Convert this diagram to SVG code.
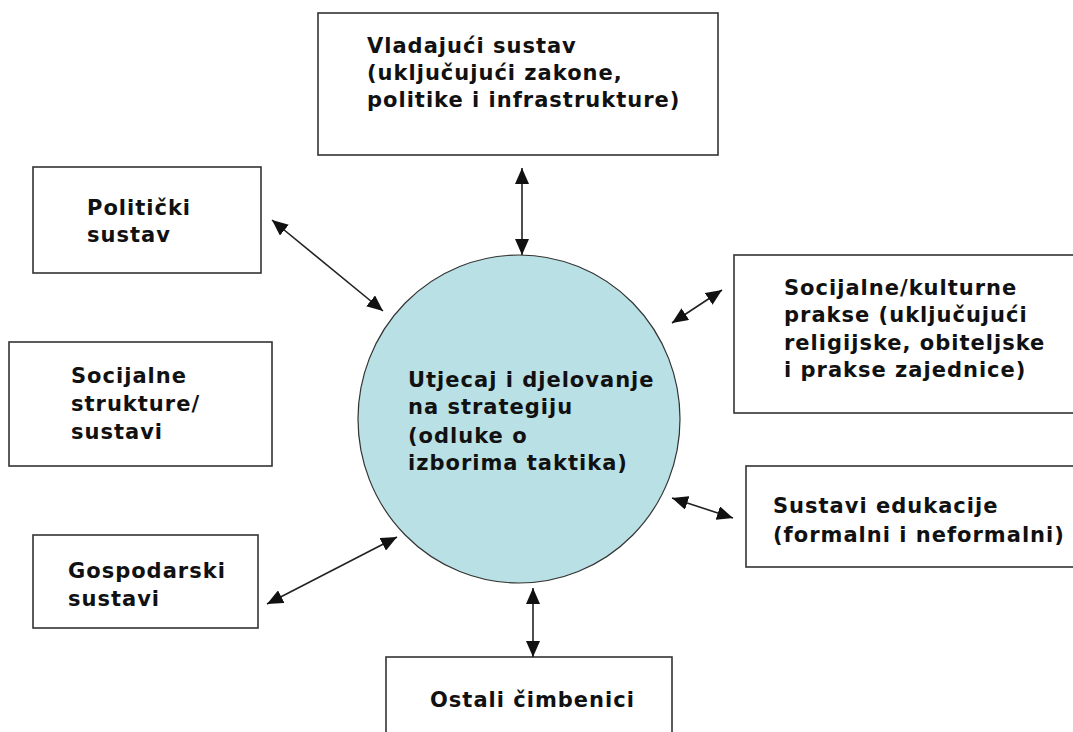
<svg xmlns="http://www.w3.org/2000/svg" width="1073" height="732" viewBox="0 0 1073 732">
<defs>
<marker id="ah" viewBox="0 0 16 14" refX="16" refY="7" markerWidth="16" markerHeight="14" markerUnits="userSpaceOnUse" orient="auto-start-reverse">
<path d="M0,0 L16,7 L0,14 Z" fill="#111"/>
</marker>
<style>
.box{fill:#fff;stroke:#333;stroke-width:1.6}
.t{font-family:"DejaVu Sans","Verdana",sans-serif;font-weight:bold;font-size:21px;fill:#111;letter-spacing:1px}
.c{stroke:#222;stroke-width:1.6;fill:none;marker-start:url(#ah);marker-end:url(#ah)}
</style>
</defs>
<rect width="1073" height="732" fill="#fff"/>
<g id="center">
<ellipse cx="519" cy="419" rx="161" ry="164" fill="#b9e0e4" stroke="#333" stroke-width="1.2"/>
<text class="t"><tspan x="408" y="387">Utjecaj i djelovanje</tspan><tspan x="408" y="414">na strategiju</tspan><tspan x="408" y="443">(odluke o</tspan><tspan x="408" y="470">izborima taktika)</tspan></text>
</g>
<g id="vladajuci">
<rect class="box" x="318" y="13" width="400" height="142"/>
<text class="t"><tspan x="367" y="53">Vladajući sustav</tspan><tspan x="367" y="80">(uključujući zakone,</tspan><tspan x="367" y="107">politike i infrastrukture)</tspan></text>
</g>
<g id="politicki">
<rect class="box" x="33" y="167" width="228" height="106"/>
<text class="t"><tspan x="87" y="215">Politički</tspan><tspan x="87" y="242">sustav</tspan></text>
</g>
<g id="socijalne-strukture">
<rect class="box" x="9" y="342" width="263" height="124"/>
<text class="t"><tspan x="71" y="383">Socijalne</tspan><tspan x="71" y="411">strukture/</tspan><tspan x="71" y="439">sustavi</tspan></text>
</g>
<g id="gospodarski">
<rect class="box" x="33" y="535" width="225" height="93"/>
<text class="t"><tspan x="68" y="578">Gospodarski</tspan><tspan x="68" y="606">sustavi</tspan></text>
</g>
<g id="kulturne-prakse">
<rect class="box" x="734" y="255" width="345" height="158"/>
<text class="t"><tspan x="784" y="295">Socijalne/kulturne</tspan><tspan x="784" y="322">prakse (uključujući</tspan><tspan x="784" y="350">religijske, obiteljske</tspan><tspan x="784" y="377">i prakse zajednice)</tspan></text>
</g>
<g id="edukacija">
<rect class="box" x="746" y="466" width="335" height="101"/>
<text class="t"><tspan x="773" y="513">Sustavi edukacije</tspan><tspan x="773" y="542">(formalni i neformalni)</tspan></text>
</g>
<g id="ostali">
<rect class="box" x="386" y="657" width="286" height="90"/>
<text class="t"><tspan x="430" y="707">Ostali čimbenici</tspan></text>
</g>
<g id="connectors">
<line class="c" x1="522" y1="168" x2="522" y2="255"/>
<line class="c" x1="272" y1="220" x2="383" y2="311"/>
<line class="c" x1="267" y1="604" x2="397" y2="537"/>
<line class="c" x1="672" y1="323" x2="722" y2="290"/>
<line class="c" x1="672" y1="498" x2="733" y2="518"/>
<line class="c" x1="533" y1="588" x2="533" y2="657"/>
</g>
</svg>
